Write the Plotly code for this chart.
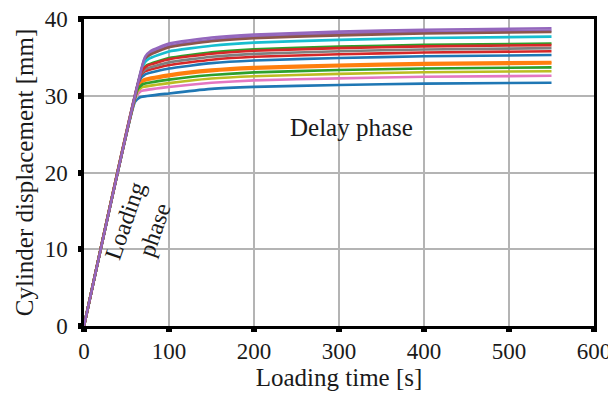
import plotly.graph_objects as go

# Colours (matplotlib tab10 cycle)
colors = ["#1f77b4", "#ff7f0e", "#2ca02c", "#d62728", "#9467bd",
          "#8c564b", "#e377c2", "#7f7f7f", "#bcbd22", "#17becf"]

# Delay-phase sampling times (s)
delay_times = [100, 150, 200, 300, 400, 550]

# Knee (end of loading) time and value for each test, plus a point shortly after
knee_t = [60, 64, 68, 66, 71, 71, 61, 67, 62, 70, 66, 64, 63, 68, 72]
knee_v = [29.2, 31.4, 33.3, 32.5, 34.8, 34.6, 29.9, 32.8, 30.4, 34.1, 32.1, 31.2, 30.8, 33.2, 35.1]
post_knee_v = [29.8, 32.1, 34.0, 33.2, 35.5, 35.3, 30.6, 33.5, 31.1, 34.8, 32.8, 31.9, 31.5, 33.9, 35.8]
post_knee_dt = 6

# Displacement values at delay_times for each test (mm)
s01 = [30.3, 30.9, 31.15, 31.4, 31.58, 31.7]
s02 = [32.75, 33.4, 33.73, 34.04, 34.25, 34.4]
s03 = [34.92, 35.66, 36.05, 36.4, 36.63, 36.8]
s04 = [34.0, 34.7, 35.08, 35.4, 35.63, 35.8]
s05 = [36.52, 37.3, 37.7, 38.07, 38.31, 38.5]
s06 = [36.33, 37.1, 37.5, 37.87, 38.11, 38.3]
s07 = [31.15, 31.7, 32.0, 32.27, 32.47, 32.6]
s08 = [34.35, 35.08, 35.46, 35.8, 36.03, 36.2]
s09 = [31.65, 32.25, 32.55, 32.85, 33.06, 33.2]
s10 = [35.78, 36.52, 36.92, 37.28, 37.52, 37.7]
s11 = [33.55, 34.25, 34.6, 34.92, 35.14, 35.3]
s12 = [32.55, 33.2, 33.53, 33.84, 34.05, 34.2]
s13 = [32.1, 32.7, 33.05, 33.35, 33.56, 33.7]
s14 = [34.75, 35.48, 35.86, 36.2, 36.43, 36.6]
s15 = [36.8, 37.58, 37.98, 38.36, 38.6, 38.8]
series = [s01, s02, s03, s04, s05, s06, s07, s08, s09, s10, s11, s12, s13, s14, s15]

x_ticks = [0, 100, 200, 300, 400, 500, 600]
y_ticks = [0, 10, 20, 30, 40]

fig = go.Figure()
for i, s in enumerate(series):
    t = [0, knee_t[i], knee_t[i] + post_knee_dt] + delay_times
    v = [0, knee_v[i], post_knee_v[i]] + s
    fig.add_trace(go.Scatter(x=t, y=v, mode="lines",
                             line=dict(color=colors[i % 10], width=2.6, shape="spline", smoothing=0.4),
                             showlegend=False, hoverinfo="skip"))

font_family = "'Liberation Serif', 'Times New Roman', serif"
txt = "#1a1a1a"
axis_common = dict(
    showline=True, linecolor="black", linewidth=2.5, mirror=True,
    showgrid=True, gridcolor="#b4b4b4", gridwidth=2,
    ticks="outside", ticklen=3, tickwidth=6, tickcolor="black",
    zeroline=False, automargin=False, ticklabeloverflow="allow",
    tickfont=dict(family=font_family, size=23, color=txt),
)

# The page body adds an 8 px offset, so the figure is sized to fill the window.
fig.update_layout(
    width=608, height=392,
    margin=dict(l=76, r=22, t=11, b=74),
    plot_bgcolor="white", paper_bgcolor="white",
    font=dict(family=font_family),
    xaxis=dict(range=[0, 600], tickvals=x_ticks,
               title=dict(text="Loading time [s]", font=dict(family=font_family, size=25, color=txt), standoff=6),
               **axis_common),
    yaxis=dict(range=[0, 40], tickvals=y_ticks, ticklabelstandoff=6,
               title=dict(text="Cylinder displacement [mm]", font=dict(family=font_family, size=25, color=txt), standoff=4),
               **axis_common),
    annotations=[
        dict(x=315, y=25.8, xref="x", yref="y", text="Delay phase", showarrow=False,
             font=dict(family=font_family, size=25, color=txt)),
        dict(x=48, y=13.7, xref="x", yref="y", text="Loading", showarrow=False, textangle=-71,
             font=dict(family=font_family, size=24, color=txt)),
        dict(x=83.5, y=12.6, xref="x", yref="y", text="phase", showarrow=False, textangle=-71,
             font=dict(family=font_family, size=24, color=txt)),
    ],
)

fig.write_html("out.html")
